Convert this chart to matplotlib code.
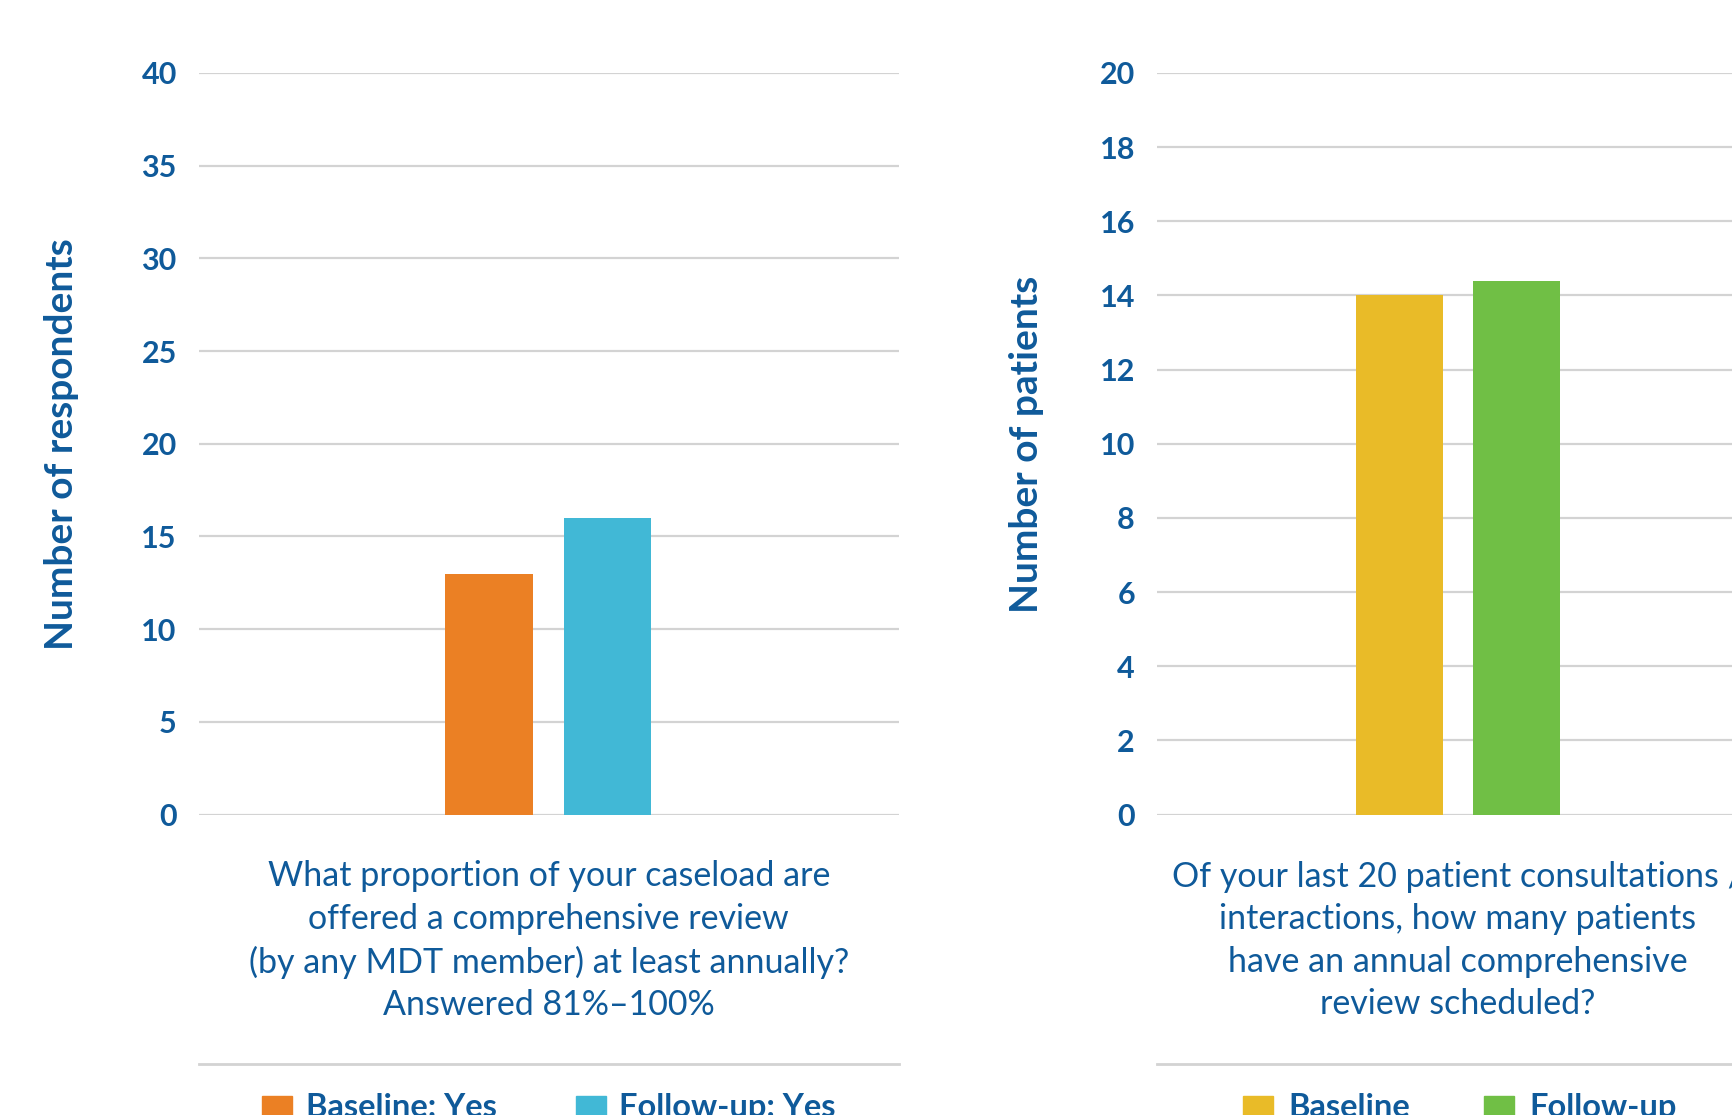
import numpy as np
import matplotlib
matplotlib.use("Agg")
import matplotlib.pyplot as plt
from matplotlib.patches import Rectangle
from matplotlib.lines import Line2D

# survey results
left_series = ["Baseline: Yes", "Follow-up: Yes"]
left_values = [13, 16]
left_colors = ["#EB8024", "#41B8D6"]
left_ticks = [0, 5, 10, 15, 20, 25, 30, 35, 40]
left_ylabel = "Number of respondents"
left_caption = ("What proportion of your caseload are\n"
                "offered a comprehensive review\n"
                "(by any MDT member) at least annually?\n"
                "Answered 81%\u2013100%")

right_series = ["Baseline", "Follow-up"]
right_values = [14, 14.4]
right_colors = ["#E9BB28", "#70BF45"]
right_ticks = [0, 2, 4, 6, 8, 10, 12, 14, 16, 18, 20]
right_ylabel = "Number of patients"
right_caption = ("Of your last 20 patient consultations /\n"
                 "interactions, how many patients\n"
                 "have an annual comprehensive\n"
                 "review scheduled?")

TXT = "#0F5A9A"
GRID = "#D3D3D3"
W, H = 1733, 1115

plt.rcParams['font.family'] = ['Lato', 'DejaVu Sans']

fig = plt.figure(figsize=(W / 100, H / 100), dpi=100)


def px(x, y):
    # pixel position (from top left) -> figure fraction
    return x / W, 1 - y / H


def panel(rect, values, colors, ticks, ylabel, caption, series, xlim,
          ylabel_x, leg_pos):
    ax = fig.add_axes(rect)
    pos = np.array([-0.5, 0.5])
    ax.bar(pos, values, width=0.74, color=colors, zorder=3)
    ax.set_xlim(*xlim)
    ax.set_ylim(0, ticks[-1])
    ax.set_yticks(ticks)
    ax.set_xticks([])
    ax.grid(axis='y', color=GRID, linewidth=1.6, zorder=0)
    for s in ax.spines.values():
        s.set_visible(False)
    ax.tick_params(axis='y', length=0, pad=16, labelsize=22, labelcolor=TXT)
    for lab in ax.get_yticklabels():
        lab.set_fontweight('bold')
    fig.text(ylabel_x / W, 1 - 444 / H, ylabel, rotation=90, ha='center',
             va='center', fontsize=28, fontweight='bold', color=TXT)
    # question text under the bars
    ax.text(0.5, -0.17, caption, transform=ax.transAxes, ha='center',
            va='center', fontsize=24.5, color=TXT, linespacing=1.4)
    # separator above the legend
    ax.add_line(Line2D([0, 1], [-0.336, -0.336], transform=ax.transAxes,
                       color=GRID, linewidth=2, clip_on=False))
    # legend
    for (hx, tx), name, c in zip(leg_pos, series, colors):
        x0, y0 = px(hx, 1127)
        fig.add_artist(Rectangle((x0, y0), 30 / W, 31 / H, color=c,
                                 transform=fig.transFigure))
        fig.text(tx / W, 1 - 1093 / H, name, ha='left', va='top',
                 fontsize=23.5, fontweight='bold', color=TXT)
    return ax


panel([199 / W, 1 - 814.6 / H, 699.6 / W, 741.7 / H], left_values,
      left_colors, left_ticks, left_ylabel, left_caption, left_series,
      (-2.953, 2.963), 62, [(262, 306), (576, 619)])

panel([1157.2 / W, 1 - 814.6 / H, 601.2 / W, 741.7 / H], right_values,
      right_colors, right_ticks, right_ylabel, right_caption, right_series,
      (-2.566, 2.566), 1027, [(1243, 1288), (1484, 1529)])

fig.savefig("out.png", dpi=100)
